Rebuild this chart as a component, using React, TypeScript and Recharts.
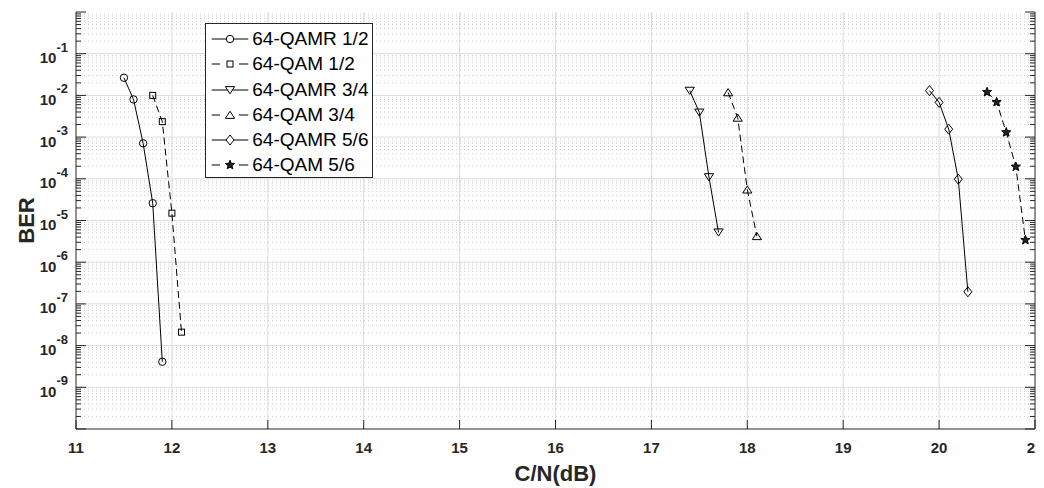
import React from 'react';
import { LineChart, Line, XAxis, YAxis, ReferenceLine, Legend } from 'recharts';

// ---- data ----
const qamr12X = [11.5, 11.6, 11.7, 11.8, 11.9];
const qamr12Y = [2.65e-2, 8.0e-3, 7.1e-4, 2.6e-5, 4.1e-9];
const qam12X = [11.8, 11.9, 12.0, 12.1];
const qam12Y = [1.0e-2, 2.35e-3, 1.5e-5, 2.1e-8];
const qamr34X = [17.4, 17.5, 17.6, 17.7];
const qamr34Y = [1.3e-2, 3.9e-3, 1.1e-4, 5.2e-6];
const qam34X = [17.8, 17.9, 18.0, 18.1];
const qam34Y = [1.18e-2, 2.9e-3, 5.5e-5, 4.2e-6];
const qamr56X = [19.9, 20.0, 20.1, 20.2, 20.3];
const qamr56Y = [1.3e-2, 6.8e-3, 1.55e-3, 9.8e-5, 1.95e-7];
const qam56X = [20.5, 20.6, 20.7, 20.8, 20.9];
const qam56Y = [1.2e-2, 6.9e-3, 1.3e-3, 1.95e-4, 3.4e-6];

const seriesNames = ['64-QAMR 1/2', '64-QAM 1/2', '64-QAMR 3/4', '64-QAM 3/4', '64-QAMR 5/6', '64-QAM 5/6'];

const xTicks = [11, 12, 13, 14, 15, 16, 17, 18, 19, 20, 21];
const decadeExps = [-10, -9, -8, -7, -6, -5, -4, -3, -2, -1, 0];
const labelExps = [-9, -8, -7, -6, -5, -4, -3, -2, -1];
const minorMults = [2, 3, 4, 5, 6, 7, 8, 9];

const majorVals = decadeExps.map((e) => Math.pow(10, e));
const minorVals: number[] = [];
decadeExps.slice(0, -1).forEach((e) => minorMults.forEach((m) => minorVals.push(m * Math.pow(10, e))));
const yTicks = [...majorVals, ...minorVals].sort((a, b) => a - b);

const toPts = (xs: number[], ys: number[]) => xs.map((x, i) => ({ x, y: ys[i] }));

type Kind = 'circle' | 'square' | 'down' | 'up' | 'diamond' | 'star';
const series: { name: string; data: { x: number; y: number }[]; dashed: boolean; kind: Kind }[] = [
  { name: seriesNames[0], data: toPts(qamr12X, qamr12Y), dashed: false, kind: 'circle' },
  { name: seriesNames[1], data: toPts(qam12X, qam12Y), dashed: true, kind: 'square' },
  { name: seriesNames[2], data: toPts(qamr34X, qamr34Y), dashed: false, kind: 'down' },
  { name: seriesNames[3], data: toPts(qam34X, qam34Y), dashed: true, kind: 'up' },
  { name: seriesNames[4], data: toPts(qamr56X, qamr56Y), dashed: false, kind: 'diamond' },
  { name: seriesNames[5], data: toPts(qam56X, qam56Y), dashed: true, kind: 'star' },
];

const FONT = '"Liberation Sans", Arial, Helvetica, sans-serif';
const AX = '#262626';
const LINE = '#000';

function starPoints(cx: number, cy: number, ro: number, ri: number) {
  const pts: string[] = [];
  for (let i = 0; i < 10; i++) {
    const r = i % 2 === 0 ? ro : ri;
    const a = -Math.PI / 2 + (i * Math.PI) / 5;
    pts.push(`${cx + r * Math.cos(a)},${cy + r * Math.sin(a)}`);
  }
  return pts.join(' ');
}

function Marker({ kind, cx, cy, fill = 'none' }: { kind: Kind; cx: number; cy: number; fill?: string }) {
  const common = { stroke: LINE, strokeWidth: 1, fill };
  switch (kind) {
    case 'circle':
      return <circle cx={cx} cy={cy} r={3.7} {...common} />;
    case 'square':
      return <rect x={cx - 3} y={cy - 3} width={6} height={6} {...common} />;
    case 'down':
      return <polygon points={`${cx - 4.6},${cy - 3.4} ${cx + 4.6},${cy - 3.4} ${cx},${cy + 3.8}`} {...common} />;
    case 'up':
      return <polygon points={`${cx - 4.6},${cy + 3.4} ${cx + 4.6},${cy + 3.4} ${cx},${cy - 3.8}`} {...common} />;
    case 'diamond':
      return <polygon points={`${cx},${cy - 5} ${cx + 4},${cy} ${cx},${cy + 5} ${cx - 4},${cy}`} {...common} />;
    case 'star':
      return <polygon points={starPoints(cx, cy, 4.8, 2.1)} stroke={LINE} strokeWidth={1} fill="#222" />;
  }
  return null;
}

const isMajor = (v: number) => Math.abs(Math.log10(v) - Math.round(Math.log10(v))) < 1e-6;

const boldText = { fontFamily: FONT, fontWeight: 700 } as React.CSSProperties;

const LeftTick = (p: any) => {
  const { x, y, payload } = p;
  const v = payload.value;
  const maj = isMajor(v);
  const e = Math.round(Math.log10(v));
  return (
    <g>
      <line x1={x} x2={x + (maj ? 10 : 5)} y1={y} y2={y} stroke={AX} strokeWidth={1} />
      {maj && labelExps.includes(e) && (
        <text x={x - 8} y={y + 9.5} textAnchor="end" style={{ ...boldText, fontSize: 15 }} fill={AX}>
          <tspan>10</tspan>
          <tspan dy={-11.5} style={{ fontSize: 13 }}>{`-${Math.abs(e)}`}</tspan>
        </text>
      )}
    </g>
  );
};

const RightTick = (p: any) => {
  const { x, y, payload } = p;
  const maj = isMajor(payload.value);
  return <line x1={x} x2={x - (maj ? 10 : 5)} y1={y} y2={y} stroke={AX} strokeWidth={1} />;
};

const BottomTick = (p: any) => {
  const { x, y, payload } = p;
  return (
    <g>
      <line x1={x} x2={x} y1={y} y2={y - 9} stroke={AX} strokeWidth={1} />
      <text x={x} y={y + 24} textAnchor="middle" style={{ ...boldText, fontSize: 15 }} fill={AX}>
        {payload.value}
      </text>
    </g>
  );
};

const TopTick = (p: any) => {
  const { x, y } = p;
  return <line x1={x} x2={x} y1={y} y2={y + 9} stroke={AX} strokeWidth={1} />;
};

const LegendBox = () => (
  <div
    style={{
      boxSizing: 'border-box',
      width: 168,
      height: 155,
      border: `1px solid ${AX}`,
      background: '#fff',
      position: 'relative',
      fontFamily: FONT,
    }}
  >
    {series.map((s, i) => {
      const cy = 15.2 + i * 25.2;
      return (
        <div key={s.name} style={{ position: 'absolute', left: 0, top: cy - 12, height: 24, width: 166 }}>
          <svg width={47} height={24} style={{ position: 'absolute', left: 0, top: 0 }}>
            {s.dashed ? (
              <>
                <line x1={5.7} x2={14} y1={12} y2={12} stroke={LINE} strokeWidth={1} />
                <line x1={33} x2={42.3} y1={12} y2={12} stroke={LINE} strokeWidth={1} />
              </>
            ) : (
              <line x1={5.7} x2={42.3} y1={12} y2={12} stroke={LINE} strokeWidth={1} />
            )}
            <Marker kind={s.kind} cx={24} cy={12} fill={s.kind === 'star' ? '#222' : '#fff'} />
          </svg>
          <span
            style={{
              position: 'absolute',
              left: 46.3,
              top: 0,
              lineHeight: '24px',
              fontSize: 19,
              color: '#000',
              whiteSpace: 'nowrap',
            }}
          >
            {s.name}
          </span>
        </div>
      );
    })}
  </div>
);

export default function App() {
  return (
    <div style={{ marginLeft: -8, marginTop: -8, width: 1044, height: 488 }}>
      <LineChart width={1044} height={488} margin={{ top: 12, right: 8, bottom: 0, left: 8 }}>
        <XAxis
          xAxisId={0}
          dataKey="x"
          type="number"
          domain={[11, 21]}
          ticks={xTicks}
          interval={0}
          tickSize={0}
          tickMargin={0}
          tick={(p: any) => <BottomTick {...p} />}
          height={59}
          stroke={AX}
          allowDataOverflow
          label={(p: any) => {
            const vb = p.viewBox || {};
            return (
              <text
                x={(vb.x ?? 76) + (vb.width ?? 959) / 2}
                y={(vb.y ?? 429) + 52}
                textAnchor="middle"
                style={{ ...boldText, fontSize: 22 }}
                fill={AX}
              >
                C/N(dB)
              </text>
            );
          }}
        />
        <XAxis
          xAxisId="top"
          orientation="top"
          dataKey="x"
          type="number"
          domain={[11, 21]}
          ticks={xTicks}
          interval={0}
          tickSize={0}
          tickMargin={0}
          tick={(p: any) => <TopTick {...p} />}
          height={0}
          stroke={AX}
          allowDataOverflow
        />
        <YAxis
          yAxisId={0}
          type="number"
          scale="log"
          domain={[1e-10, 1]}
          ticks={yTicks}
          interval={0}
          tickSize={0}
          tickMargin={0}
          tick={(p: any) => <LeftTick {...p} />}
          width={68}
          stroke={AX}
          allowDataOverflow
          label={(p: any) => {
            const vb = p.viewBox || {};
            const cx = 26;
            const cy = (vb.y ?? 12) + (vb.height ?? 417) / 2;
            return (
              <text
                x={cx}
                y={cy}
                transform={`rotate(-90, ${cx}, ${cy})`}
                textAnchor="middle"
                dominantBaseline="central"
                style={{ ...boldText, fontSize: 22 }}
                fill={AX}
              >
                BER
              </text>
            );
          }}
        />
        <YAxis
          yAxisId="right"
          orientation="right"
          type="number"
          scale="log"
          domain={[1e-10, 1]}
          ticks={yTicks}
          interval={0}
          tickSize={0}
          tickMargin={0}
          tick={(p: any) => <RightTick {...p} />}
          width={1}
          stroke={AX}
          allowDataOverflow
        />
        {minorVals.map((v) => (
          <ReferenceLine key={`mn${v}`} y={v} stroke="#cdcdcd" strokeWidth={1} strokeDasharray="1 3" />
        ))}
        {majorVals.slice(1, -1).map((v) => (
          <ReferenceLine key={`mj${v}`} y={v} stroke="#dcdcdc" strokeWidth={1} />
        ))}
        {xTicks.slice(1, -1).map((v) => (
          <ReferenceLine key={`vx${v}`} x={v} stroke="#dcdcdc" strokeWidth={1} />
        ))}
        {series.map((s) => (
          <Line
            key={s.name}
            data={s.data}
            dataKey="y"
            name={s.name}
            type="linear"
            stroke={LINE}
            strokeWidth={1}
            strokeDasharray={s.dashed ? '7 4' : undefined}
            isAnimationActive={false}
            activeDot={false}
            legendType="none"
            dot={(p: any) => (
              <Marker key={`${s.name}-${p.index}`} kind={s.kind} cx={p.cx} cy={p.cy} fill={s.kind === 'star' ? '#222' : 'none'} />
            )}
          />
        ))}
        <Legend
          layout="vertical"
          align="center"
          verticalAlign="middle"
          wrapperStyle={{ left: 205, top: 23, width: 168, height: 155, margin: 0, padding: 0 }}
          content={() => <LegendBox />}
        />
      </LineChart>
    </div>
  );
}
